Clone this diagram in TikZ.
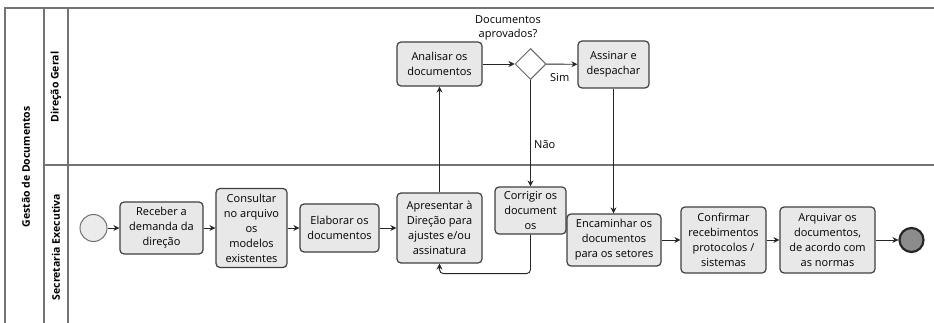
\documentclass[tikz,border=0pt]{standalone}
\usepackage{fontspec}
\setmainfont{Open Sans}
\usetikzlibrary{arrows.meta,shapes.geometric}
\begin{document}
\begin{tikzpicture}[x=1pt,y=-1pt,
  task/.style={draw=black!75,fill=black!9,line width=1.2pt,rounded corners=4pt,align=center,inner sep=0pt,font=\fontsize{11}{15}\selectfont},
  flow/.style={draw=black!85,line width=0.9pt,-{Stealth[length=6pt,width=6pt]}},
  lane/.style={draw=black!55,line width=1.2pt},
  lanelabel/.style={rotate=90,font=\fontsize{10.5}{12}\selectfont\bfseries,inner sep=0pt},
  lbl/.style={font=\fontsize{11}{14}\selectfont,inner sep=0pt,align=center}
]
\useasboundingbox (0,0) rectangle (934,323);
\fill[white] (0,0) rectangle (934,323);
% lanes
\draw[lane] (5,323) -- (5,8) -- (934,8);
\draw[lane] (44,8) -- (44,323);
\draw[lane] (68,8) -- (68,323);
\draw[lane] (44,165) -- (934,165);
\node[lanelabel] (pool) at (26,167) {Gestão de Documentos};
\node[lanelabel] (dg) at (56,87) {Direção Geral};
\node[lanelabel] (se) at (56,247) {Secretaria Executiva};
% events
\node[circle,draw=black!55,fill=black!8,line width=1pt,minimum size=27pt,inner sep=0pt] (start) at (93.5,228) {};
\node[circle,draw=black!85,fill=black!45,line width=2.2pt,minimum size=24pt,inner sep=0pt] (end) at (911.5,240) {};
% tasks
\node[task,minimum width=83pt,minimum height=52pt] (receber) at (161.5,228) {Receber a\\demanda da\\direção};
\node[task,minimum width=71pt,minimum height=79pt] (consultar) at (251.5,228) {Consultar\\no arquivo\\os\\modelos\\existentes};
\node[task,minimum width=79pt,minimum height=48pt] (elaborar) at (339.5,228) {Elaborar os\\documentos};
\node[task,minimum width=85pt,minimum height=70pt] (apresentar) at (439.5,228) {Apresentar à\\Direção para\\ajustes e/ou\\assinatura};
\node[task,minimum width=71pt,minimum height=47pt] (corrigir) at (530.5,210.5) {Corrigir os\\document\\os};
\node[task,minimum width=85pt,minimum height=44pt] (analisar) at (439.5,64) {Analisar os\\documentos};
\node[diamond,draw=black!60,fill=white,line width=1pt,minimum width=31pt,minimum height=31pt,inner sep=0pt] (gw) at (530.5,64) {};
\node[task,minimum width=71pt,minimum height=47pt] (assinar) at (613.5,64.5) {Assinar e\\despachar};
\node[task,minimum width=94pt,minimum height=52pt] (encam) at (614,240) {Encaminhar os\\documentos\\para os setores};
\node[task,minimum width=85pt,minimum height=66pt] (confirmar) at (723.5,240) {Confirmar\\recebimentos\\protocolos /\\sistemas};
\node[task,minimum width=95pt,minimum height=66pt] (arquivar) at (827.5,240) {Arquivar os\\documentos,\\de acordo com\\as normas};
% labels
\node[lbl] (q) at (508,28) {Documentos\\aprovados?};
\node[lbl,anchor=west] (sim) at (550,78) {Sim};
\node[lbl,anchor=west] (nao) at (534,145) {Não};
% flows
\draw[flow] (start) -- (receber);
\draw[flow] (receber) -- (consultar);
\draw[flow] (consultar) -- (elaborar);
\draw[flow] (elaborar) -- (apresentar);
\draw[flow] (apresentar) -- (analisar);
\draw[flow] (analisar) -- (gw);
\draw[flow] (gw) -- (assinar);
\draw[flow] (gw) -- (corrigir);
\draw[flow,rounded corners=4pt] (corrigir.south) -- ++(0,39) -| (apresentar.south);
\draw[flow] (assinar.south) -- (assinar.south |- encam.north);
\draw[flow] (encam) -- (confirmar);
\draw[flow] (confirmar) -- (arquivar);
\draw[flow] (arquivar) -- (end);
\end{tikzpicture}
\end{document}
